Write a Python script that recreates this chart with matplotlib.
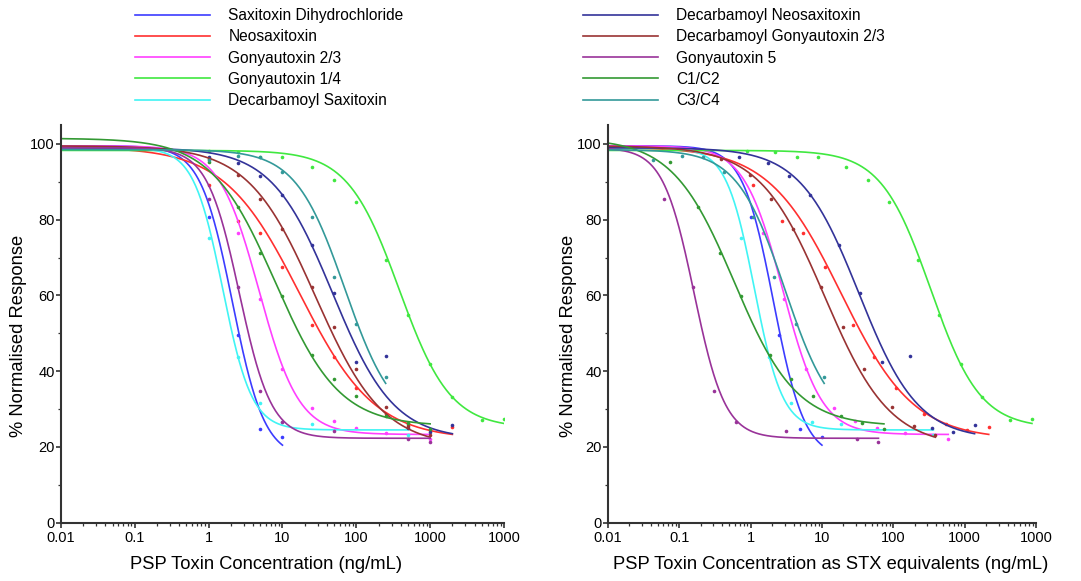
import numpy as np
import matplotlib.pyplot as plt
from matplotlib.ticker import FixedLocator, LogLocator, MultipleLocator, NullFormatter

plt.rcParams['font.family'] = ['Liberation Sans', 'DejaVu Sans']

# toxin names, colours and toxicity equivalence factors (used for the right panel)
toxins = ['Saxitoxin Dihydrochloride', 'Neosaxitoxin', 'Gonyautoxin 2/3', 'Gonyautoxin 1/4',
          'Decarbamoyl Saxitoxin', 'Decarbamoyl Neosaxitoxin', 'Decarbamoyl Gonyautoxin 2/3',
          'Gonyautoxin 5', 'C1/C2', 'C3/C4']
colors = ['#3c3cff', '#ff3030', '#ff40ff', '#40e840', '#40f4f4',
          '#333399', '#993333', '#993399', '#339933', '#339999']
tef = [1.0, 1.09, 0.59, 0.88, 0.73, 0.69, 0.39, 0.062, 0.074, 0.043]

# measured points, concentration in ng/mL and % normalised response
stx_conc = [1, 2.5, 5, 10]
stx_resp = [80.8, 49.5, 24.7, 22.7]
neo_conc = [1, 2.5, 5, 10, 25, 50, 100, 250, 500, 1000, 2000]
neo_resp = [89.2, 79.7, 76.4, 67.4, 52.2, 43.7, 35.7, 28.7, 26.0, 24.5, 25.4]
gtx23_conc = [2.5, 5, 10, 25, 50, 100, 250, 1000]
gtx23_resp = [76.4, 59.0, 40.7, 30.2, 26.9, 24.9, 23.6, 22.0]
gtx14_conc = [1, 2.5, 5, 10, 25, 50, 100, 250, 500, 1000, 2000, 5000, 10000]
gtx14_resp = [98.2, 98.0, 96.5, 96.5, 94.0, 90.5, 84.8, 69.4, 54.9, 41.9, 33.3, 27.1, 27.3]
dcstx_conc = [1, 2.5, 5, 10, 25, 500]
dcstx_resp = [75.3, 43.7, 31.7, 26.5, 26.1, 23.2]
dcneo_conc = [1, 2.5, 5, 10, 25, 50, 100, 250, 500, 1000, 2000]
dcneo_resp = [96.5, 94.9, 91.5, 86.5, 73.3, 60.6, 42.5, 44.0, 24.9, 24.0, 25.7]
dcgtx_conc = [1, 2.5, 5, 10, 25, 50, 100, 250, 500, 1000]
dcgtx_resp = [95.9, 91.8, 85.4, 77.5, 62.3, 51.8, 40.5, 30.6, 25.5, 23.2]
gtx5_conc = [1, 2.5, 5, 10, 50, 500, 1000]
gtx5_resp = [85.5, 62.3, 34.8, 26.7, 24.3, 22.0, 21.4]
c12_conc = [1, 2.5, 5, 10, 25, 50, 100, 250, 500, 1000]
c12_resp = [95.2, 83.4, 71.1, 59.9, 44.4, 37.9, 33.5, 28.2, 26.2, 24.7]
c34_conc = [1, 2.5, 5, 10, 25, 50, 100, 250]
c34_resp = [95.8, 96.7, 96.5, 92.7, 80.8, 64.8, 52.4, 38.4]

concs = [stx_conc, neo_conc, gtx23_conc, gtx14_conc, dcstx_conc,
         dcneo_conc, dcgtx_conc, gtx5_conc, c12_conc, c34_conc]
resps = [stx_resp, neo_resp, gtx23_resp, gtx14_resp, dcstx_resp,
         dcneo_resp, dcgtx_resp, gtx5_resp, c12_resp, c34_resp]

# 4-parameter logistic fit parameters (EC50 in ng/mL)
fit_top = [99.5, 99.2, 99.5, 98.3, 99.0, 99.0, 99.5, 99.0, 101.5, 98.5]
fit_bottom = [17.0, 22.0, 23.3, 25.0, 24.5, 22.0, 20.0, 22.3, 25.5, 25.0]
fit_ec50 = [2.1, 17.0, 4.8, 380.0, 1.55, 48.0, 28.0, 2.6, 8.0, 70.0]
fit_hill = [2.0, 0.85, 1.6, 1.25, 2.2, 1.05, 0.95, 2.0, 1.0, 1.3]


def logistic(x, top, bottom, ec50, hill):
    return bottom + (top - bottom) / (1 + (x / ec50) ** hill)


fig = plt.figure(figsize=(10.81, 5.81), dpi=100)
ax1 = fig.add_axes([0.0564, 0.1003, 0.4098, 0.6845])
ax2 = fig.add_axes([0.5624, 0.1003, 0.3959, 0.6845])

handles = []
for i, name in enumerate(toxins):
    for ax, scale in ((ax1, 1.0), (ax2, tef[i])):
        x = np.array(concs[i]) * scale
        xs = np.logspace(-2, np.log10(x.max()), 400)
        line, = ax.plot(xs, logistic(xs, fit_top[i], fit_bottom[i], fit_ec50[i] * scale, fit_hill[i]),
                        color=colors[i], lw=1.2, label=name)
        ax.plot(x, resps[i], 'o', color=colors[i], ms=2.6, mec='none')
        if ax is ax1:
            handles.append(line)

xlabels = ['0.01', '0.1', '1', '10', '100', '1000', '1000']
for ax in (ax1, ax2):
    ax.set_xscale('log')
    ax.set_xlim(0.01, 10000)
    ax.set_ylim(0, 105)
    ax.xaxis.set_major_locator(FixedLocator([0.01, 0.1, 1, 10, 100, 1000, 10000]))
    ax.set_xticklabels(xlabels)
    ax.xaxis.set_minor_locator(LogLocator(base=10, subs=np.arange(2, 10), numticks=20))
    ax.xaxis.set_minor_formatter(NullFormatter())
    ax.yaxis.set_major_locator(MultipleLocator(20))
    ax.yaxis.set_minor_locator(MultipleLocator(10))
    for s in ('top', 'right'):
        ax.spines[s].set_visible(False)
    for s in ('left', 'bottom'):
        ax.spines[s].set_color('#333333')
        ax.spines[s].set_linewidth(1.5)
    ax.tick_params(which='major', length=3.5, width=1.2, color='#333333', labelsize=10.5, pad=2.5)
    ax.tick_params(which='minor', length=2, width=0.9, color='#333333')
    ax.tick_params(axis='y', pad=1)
    ax.set_ylabel('% Normalised Response', fontsize=13.2)

ax1.set_xlabel('PSP Toxin Concentration (ng/mL)', fontsize=13.2)
ax2.set_xlabel('PSP Toxin Concentration as STX equivalents (ng/mL)', fontsize=13.2)
ax1.xaxis.set_label_coords(0.463, -0.083)
ax2.xaxis.set_label_coords(0.521, -0.083)
ax1.yaxis.set_label_coords(-0.077, 0.47)
ax2.yaxis.set_label_coords(-0.072, 0.47)

leg_kw = dict(loc='upper left', frameon=False, fontsize=11.2, handlelength=4.8,
              handletextpad=1.2, labelspacing=0.4, borderpad=0, borderaxespad=0)
fig.legend(handles[:5], toxins[:5], bbox_to_anchor=(0.1249, 0.986), **leg_kw)
fig.legend(handles[5:], toxins[5:], bbox_to_anchor=(0.5393, 0.986), **leg_kw)

fig.savefig('out.png', dpi=100)
